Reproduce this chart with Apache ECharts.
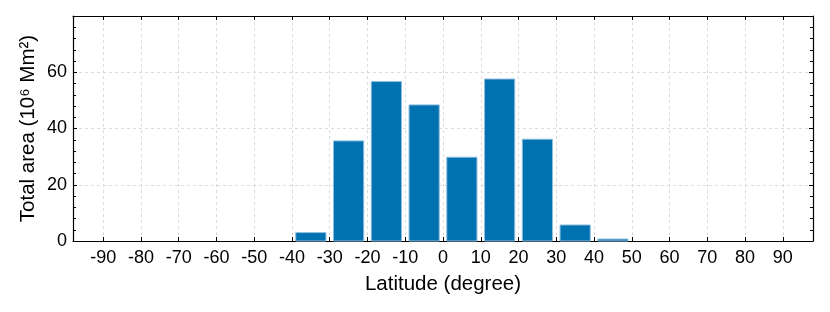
<!DOCTYPE html>
<html>
<head>
<meta charset="utf-8">
<script src="https://cdn.jsdelivr.net/npm/echarts@6/dist/echarts.min.js"></script>
<style>
html, body { margin: 0; padding: 0; background: #fff; }
#chart { width: 830px; height: 312px; }
</style>
</head>
<body>
<div id="chart"></div>
<script>
// latitude bins (centre of each 10 degree bin) and total area per bin
var binCenters = [-35, -25, -15, -5, 5, 15, 25, 35, 45];
var areaValues = [3.0, 35.6, 56.7, 48.4, 29.8, 57.6, 36.2, 5.7, 0.7];
var latTicks = [-90, -80, -70, -60, -50, -40, -30, -20, -10, 0, 10, 20, 30, 40, 50, 60, 70, 80, 90];

var BAR_WIDTH = 8; // degrees
var FONT = '"Liberation Sans", Arial, Helvetica, sans-serif';

var chart = echarts.init(document.getElementById('chart'));

var gridLine = {
	show: true,
	lineStyle: { color: '#dcdcdc', type: [3, 3], width: 1 }
};
var frameLine = { show: true, onZero: false, lineStyle: { color: '#000', width: 1.2 } };

var option = {
	animation: false,
	grid: { left: 73, right: 17, top: 16, bottom: 71 },
	xAxis: [
		{
			type: 'value',
			position: 'bottom',
			min: -98,
			max: 98,
			name: 'Latitude (degree)',
			nameLocation: 'middle',
			nameGap: 33,
			nameMoveOverlap: false,
			nameTextStyle: { fontFamily: FONT, fontSize: 20.5, color: '#000' },
			axisLine: frameLine,
			axisTick: { show: true, inside: true, length: 4, customValues: latTicks, lineStyle: { color: '#000' } },
			axisLabel: {
				customValues: latTicks,
				fontFamily: FONT, fontSize: 18, color: '#000', margin: 8,
				formatter: function (v) { return String(v); }
			},
			splitLine: gridLine
		},
		{
			type: 'value',
			position: 'top',
			min: -98,
			max: 98,
			axisLine: frameLine,
			axisTick: { show: true, inside: true, length: 4, customValues: latTicks, lineStyle: { color: '#000' } },
			axisLabel: { show: false },
			splitLine: { show: false }
		}
	],
	yAxis: [
		{
			type: 'value',
			position: 'left',
			min: 0,
			max: 80,
			interval: 20,
			name: 'Total area (10\u2076 Mm\u00b2)',
			nameLocation: 'middle',
			nameGap: 34,
			nameMoveOverlap: false,
			nameTextStyle: { fontFamily: FONT, fontSize: 20.5, color: '#000' },
			axisLine: frameLine,
			axisTick: { show: true, inside: true, length: 4, lineStyle: { color: '#000' } },
			minorTick: { show: true, splitNumber: 5, length: 3, lineStyle: { color: '#000' } },
			axisLabel: {
				fontFamily: FONT, fontSize: 18, color: '#000', margin: 6,
				formatter: function (v) { return v === 80 ? '' : String(v); }
			},
			splitLine: gridLine
		},
		{
			type: 'value',
			position: 'right',
			min: 0,
			max: 80,
			interval: 20,
			axisLine: frameLine,
			axisTick: { show: true, inside: true, length: 4, lineStyle: { color: '#000' } },
			minorTick: { show: true, splitNumber: 5, length: 3, lineStyle: { color: '#000' } },
			axisLabel: { show: false },
			splitLine: { show: false }
		}
	],
	series: [
		{
			type: 'custom',
			xAxisIndex: 0,
			yAxisIndex: 0,
			data: binCenters.map(function (c, i) { return [c, areaValues[i]]; }),
			encode: { x: 0, y: 1 },
			renderItem: function (params, api) {
				var c = api.value(0);
				var v = api.value(1);
				var p0 = api.coord([c - BAR_WIDTH / 2, v]);
				var p1 = api.coord([c + BAR_WIDTH / 2, 0]);
				return {
					type: 'rect',
					shape: { x: p0[0], y: p0[1], width: p1[0] - p0[0], height: p1[1] - p0[1] },
					style: { fill: '#0072B2', stroke: '#8fbfde', lineWidth: 1 }
				};
			}
		}
	]
};

chart.setOption(option);
</script>
</body>
</html>
